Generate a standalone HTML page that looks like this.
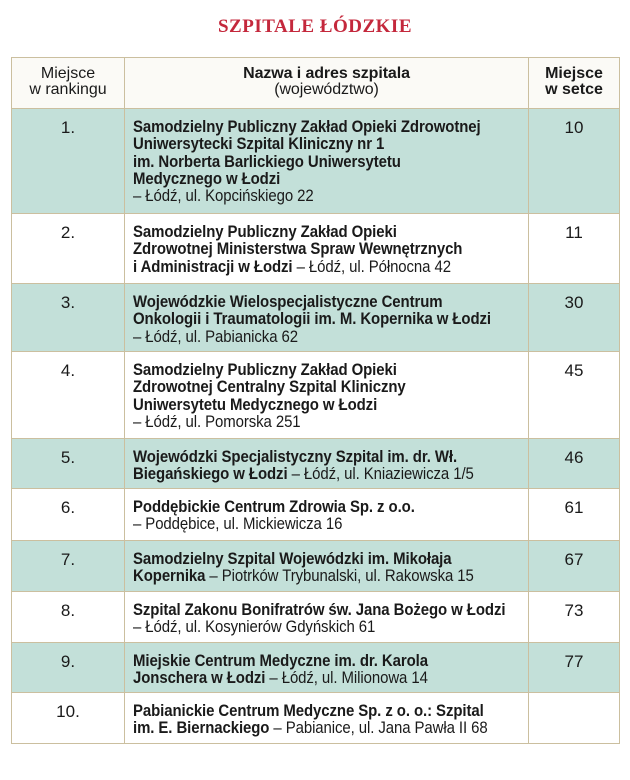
<!DOCTYPE html>
<html><head><meta charset="utf-8">
<style>
body{margin:0;width:630px;height:780px;background:#fff;position:relative;overflow:hidden;font-family:"Liberation Sans Narrow","Liberation Sans",sans-serif;color:#1a1a1a}
.title{position:absolute;top:16px;left:0;width:630px;text-align:center;font-family:"Liberation Serif",serif;font-weight:bold;font-size:19px;color:#c4283c;letter-spacing:0.5px}
.tbl{position:absolute;left:11px;top:57px;width:607px;border:1.5px solid #cbbf9f}
.row{position:absolute;left:0;width:607px;border-top:1.5px solid #cbbf9f;box-sizing:border-box}
.row.teal{background:#c3e0d9}
.row.hdr{background:#fbfaf6;border-top:none}
.c1,.c2,.c3{position:absolute;top:0;bottom:0;box-sizing:border-box}
.c1{left:0;width:112px;text-align:center;padding-top:9px;font-size:17px}
.c2{left:112px;width:405px;border-left:1.5px solid #cbbf9f;border-right:1.5px solid #cbbf9f;padding:9px 0 0 8px;font-size:17px;line-height:17.3px}
.c2 .t{display:block;white-space:nowrap;transform:scaleX(0.88);transform-origin:0 0;letter-spacing:-0.1px}
.c3{left:517px;width:90px;text-align:center;padding-top:9px;font-size:17px}
b{font-weight:bold}
.hdr .c1,.hdr .c2,.hdr .c3{line-height:16px;padding-top:8px;font-size:16px}
.hdr .c2{text-align:center;padding-left:0}
.hdr .c2 .t{transform:none}
</style></head><body>
<div class="title">SZPITALE ŁÓDZKIE</div>
<div class="tbl" style="height:685px">
<div class="row hdr" style="top:0;height:50px">
 <div class="c1">Miejsce<br>w rankingu</div>
 <div class="c2"><span class="t"><b>Nazwa i adres szpitala</b><br>(województwo)</span></div>
 <div class="c3"><b>Miejsce<br>w setce</b></div>
</div>
<div class="row teal" style="top:50px;height:105px">
 <div class="c1">1.</div>
 <div class="c2"><span class="t"><b>Samodzielny Publiczny Zakład Opieki Zdrowotnej<br>Uniwersytecki Szpital Kliniczny nr 1<br>im. Norberta Barlickiego Uniwersytetu<br>Medycznego w Łodzi</b><br>– Łódź, ul. Kopcińskiego 22</span></div>
 <div class="c3">10</div>
</div>
<div class="row" style="top:155px;height:70px">
 <div class="c1">2.</div>
 <div class="c2"><span class="t"><b>Samodzielny Publiczny Zakład Opieki<br>Zdrowotnej Ministerstwa Spraw Wewnętrznych<br>i Administracji w Łodzi</b> – Łódź, ul. Północna 42</span></div>
 <div class="c3">11</div>
</div>
<div class="row teal" style="top:225px;height:68px">
 <div class="c1">3.</div>
 <div class="c2"><span class="t"><b>Wojewódzkie Wielospecjalistyczne Centrum<br>Onkologii i Traumatologii im. M. Kopernika w Łodzi</b><br>– Łódź, ul. Pabianicka 62</span></div>
 <div class="c3">30</div>
</div>
<div class="row" style="top:293px;height:87px">
 <div class="c1">4.</div>
 <div class="c2"><span class="t"><b>Samodzielny Publiczny Zakład Opieki<br>Zdrowotnej Centralny Szpital Kliniczny<br>Uniwersytetu Medycznego w Łodzi</b><br>– Łódź, ul. Pomorska 251</span></div>
 <div class="c3">45</div>
</div>
<div class="row teal" style="top:380px;height:50px">
 <div class="c1">5.</div>
 <div class="c2"><span class="t"><b>Wojewódzki Specjalistyczny Szpital im. dr. Wł.<br>Biegańskiego w Łodzi</b> – Łódź, ul. Kniaziewicza 1/5</span></div>
 <div class="c3">46</div>
</div>
<div class="row" style="top:430px;height:52px">
 <div class="c1">6.</div>
 <div class="c2"><span class="t"><b>Poddębickie Centrum Zdrowia Sp. z o.o.</b><br>– Poddębice, ul. Mickiewicza 16</span></div>
 <div class="c3">61</div>
</div>
<div class="row teal" style="top:482px;height:51px">
 <div class="c1">7.</div>
 <div class="c2"><span class="t"><b>Samodzielny Szpital Wojewódzki im. Mikołaja<br>Kopernika</b> – Piotrków Trybunalski, ul. Rakowska 15</span></div>
 <div class="c3">67</div>
</div>
<div class="row" style="top:533px;height:51px">
 <div class="c1">8.</div>
 <div class="c2"><span class="t"><b>Szpital Zakonu Bonifratrów św. Jana Bożego w Łodzi</b><br>– Łódź, ul. Kosynierów Gdyńskich 61</span></div>
 <div class="c3">73</div>
</div>
<div class="row teal" style="top:584px;height:50px">
 <div class="c1">9.</div>
 <div class="c2"><span class="t"><b>Miejskie Centrum Medyczne im. dr. Karola<br>Jonschera w Łodzi</b> – Łódź, ul. Milionowa 14</span></div>
 <div class="c3">77</div>
</div>
<div class="row" style="top:634px;height:51px">
 <div class="c1">10.</div>
 <div class="c2"><span class="t"><b>Pabianickie Centrum Medyczne Sp. z o. o.: Szpital<br>im. E. Biernackiego</b> – Pabianice, ul. Jana Pawła II 68</span></div>
 <div class="c3"></div>
</div>
</div>
</body></html>
